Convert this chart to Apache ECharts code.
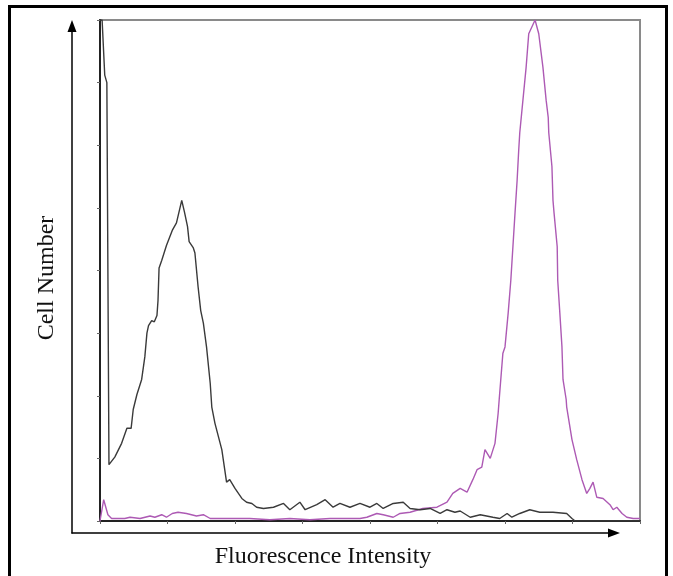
<!DOCTYPE html>
<html>
<head>
<meta charset="utf-8">
<script src="https://cdn.jsdelivr.net/npm/echarts@6/dist/echarts.min.js"></script>
<style>
html,body{margin:0;padding:0;background:#fff;}
#chart{width:673px;height:576px;}
</style>
</head>
<body>
<div id="chart"></div>
<script>
// Channel (0-1024) vs cell count (0-400)
const xTitle = 'Fluorescence Intensity';
const yTitle = 'Cell Number';
const xMax = 1024, xStep = 128;
const yMax = 400, yStep = 50;

const controlChannels = [0,4,9,13,17,19,28,41,51,59,63,70,79,85,89,92,98,103,108,110,112,117,126,137,145,155,160,166,169,177,180,186,191,196,202,209,212,218,231,240,246,256,269,278,288,297,310,329,348,360,379,389,411,427,442,455,474,493,512,525,537,556,575,588,607,626,645,658,673,683,702,721,745,758,772,781,796,815,834,859,885,895,901,1024];
const controlCounts   = [400,400,356,350,45,45,51,62,74,74,89,101,113,131,150,156,160,159,164,176,202,208,220,232,238,256,247,235,223,218,214,187,168,158,139,110,91,78,57,31,33,26,18,15,14,11,10,11,14,9,15,9,13,17,11,14,11,14,11,14,10,14,15,10,9,10,6,9,7,8,3,5,3,2,6,3,6,9,7,7,6,2,0,0];

const stainedChannels = [0,3,7,15,22,38,47,57,76,95,104,117,126,137,148,164,183,196,209,228,246,284,322,360,398,436,474,493,506,525,537,556,569,588,612,639,658,669,683,696,707,715,724,730,740,749,755,757,760,764,768,774,779,783,787,791,794,796,802,808,813,825,832,840,846,850,851,857,859,861,867,868,872,876,878,884,885,895,904,914,923,929,935,942,954,967,973,980,990,999,1011,1020,1024];
const stainedCounts   = [0,1,17,5,2,2,2,3,2,4,3,5,3,6,7,6,4,5,2,2,2,2,1,2,1,2,2,2,3,6,5,3,6,7,10,11,15,22,26,23,33,41,43,57,50,62,86,97,113,134,139,166,192,219,246,272,296,310,336,362,389,400,389,362,336,322,310,283,256,246,219,192,166,139,113,97,91,65,49,33,22,26,31,19,18,13,9,11,6,3,2,2,2];

const pairs = (xs, ys) => xs.map((x, i) => [x, ys[i]]);

const chart = echarts.init(document.getElementById('chart'));
const serif = "'Liberation Serif','Times New Roman',serif";
chart.setOption({
  animation: false,
  backgroundColor: '#fff',
  grid: [
    {left: 100, top: 20, width: 540, height: 501, show: true, borderColor: '#8a8a8a', borderWidth: 2, backgroundColor: 'transparent'},
    {left: 72, top: 26, right: 59, bottom: 43, show: false}
  ],
  xAxis: [
    {gridIndex: 0, type: 'value', min: 0, max: xMax, interval: xStep,
     axisLine: {show: true, lineStyle: {color: '#222', width: 2}},
     axisTick: {show: true, length: 3, lineStyle: {color: '#666'}},
     axisLabel: {show: false}, splitLine: {show: false}},
    {gridIndex: 1, type: 'value', min: 0, max: 1, position: 'bottom',
     axisLine: {show: true, onZero: false, symbol: ['none', 'triangle'], symbolSize: [9, 12], lineStyle: {color: '#000', width: 1.5}},
     axisTick: {show: false}, axisLabel: {show: false}, splitLine: {show: false}}
  ],
  yAxis: [
    {gridIndex: 0, type: 'value', min: 0, max: yMax, interval: yStep,
     axisLine: {show: true, lineStyle: {color: '#222', width: 2}},
     axisTick: {show: true, length: 3, lineStyle: {color: '#666'}},
     axisLabel: {show: false}, splitLine: {show: false}},
    {gridIndex: 1, type: 'value', min: 0, max: 1, position: 'left',
     axisLine: {show: true, onZero: false, symbol: ['none', 'triangle'], symbolSize: [9, 12], lineStyle: {color: '#000', width: 1.5}},
     axisTick: {show: false}, axisLabel: {show: false}, splitLine: {show: false}}
  ],
  series: [
    {type: 'line', xAxisIndex: 0, yAxisIndex: 0, data: pairs(stainedChannels, stainedCounts),
     showSymbol: false, clip: true, lineStyle: {color: '#ad5ab4', width: 1.4}, z: 3},
    {type: 'line', xAxisIndex: 0, yAxisIndex: 0, data: pairs(controlChannels, controlCounts),
     showSymbol: false, clip: true, lineStyle: {color: '#3a3a3a', width: 1.4}, z: 4}
  ],
  graphic: [
    {type: 'rect', shape: {x: 9.5, y: 6.5, width: 657, height: 590}, style: {fill: 'none', stroke: '#000', lineWidth: 3}, silent: true},
    {type: 'text', x: 323, y: 557, style: {text: xTitle, font: '24px ' + serif, fill: '#111', align: 'center', verticalAlign: 'middle'}},
    {type: 'text', x: 47, y: 278, rotation: Math.PI / 2, style: {text: yTitle, font: '24px ' + serif, fill: '#111', align: 'center', verticalAlign: 'middle'}}
  ]
});
</script>
</body>
</html>
